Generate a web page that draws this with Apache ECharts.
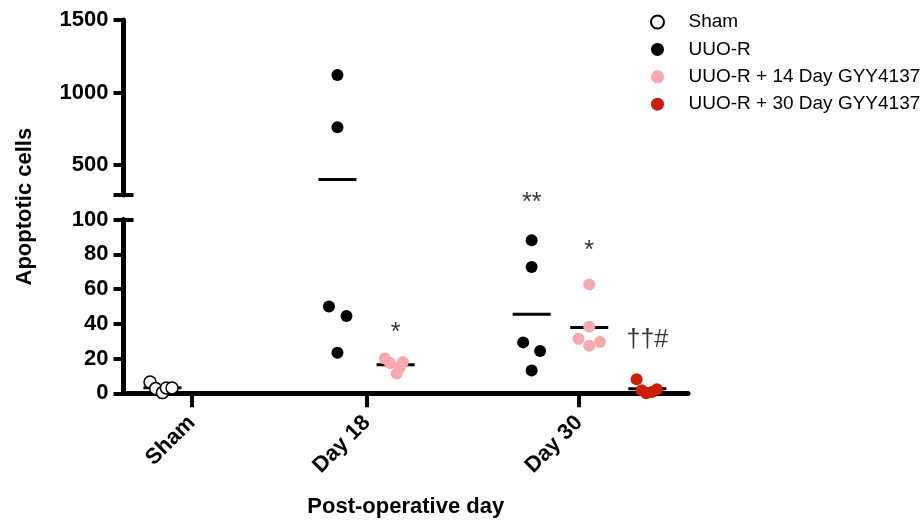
<!DOCTYPE html>
<html><head><meta charset="utf-8">
<script src="https://cdn.jsdelivr.net/npm/echarts@6/dist/echarts.min.js"></script>
<style>html,body{margin:0;padding:0;background:#fff}#chart{width:923px;height:520px}</style>
</head><body><div id="chart"></div>
<script>
// ---------------- data ----------------
const categories = ['Sham', 'Day 18', 'Day 30'];
const seriesNames = ['Sham', 'UUO-R', 'UUO-R + 14 Day GYY4137', 'UUO-R + 30 Day GYY4137'];
const shamValues = [6.5, 2.7, 0.4, 3.1, 3.1];
const uuoDay18 = [1120, 760, 50, 44.5, 23.3];
const uuoDay30 = [88, 72.7, 29.3, 24.3, 13.1];
const gyy14Day18 = [20, 17.5, 18, 11.4, 14.9];
const gyy14Day30 = [62.6, 38.3, 31.4, 27.3, 29.5];
const gyy30Day30 = [8.1, 1.7, 0, 0.8, 2.3];
const upperTicks = [500, 1000, 1500];
const lowerTicks = [0, 20, 40, 60, 80, 100];
const significance = ['*', '**', '*', '††#'];
const significanceLevel = [34.8, 109.2, 82.0, 30.7];

// ---------------- layout ----------------
const FONT = '"Liberation Sans", Arial, Helvetica, sans-serif';
const slot = { sham: 0.69, uuo18: 3.79, g14_18: 4.82, uuo30: 7.23, g14_30: 8.25, g30_30: 9.28 };
const tickPos = [1.21, 4.31, 8.07];
const annotationSlot = [slot.g14_18, slot.uuo30, slot.g14_30, slot.g30_30];
const LOWER_MAX = 100, UPPER_MIN = 293, UPPER_MAX = 1500;
const GL = 123.5, GW = 564.5;

const groups = [
  { name: seriesNames[0], x: slot.sham,   values: shamValues, jitter: [-0.22, -0.12, 0, 0.07, 0.17] },
  { name: seriesNames[1], x: slot.uuo18,  values: uuoDay18,   jitter: [0, 0, -0.15, 0.16, 0] },
  { name: seriesNames[1], x: slot.uuo30,  values: uuoDay30,   jitter: [0, 0, -0.15, 0.15, 0] },
  { name: seriesNames[2], x: slot.g14_18, values: gyy14Day18, jitter: [-0.19, -0.10, 0.13, 0.02, 0.07] },
  { name: seriesNames[2], x: slot.g14_30, values: gyy14Day30, jitter: [0, 0, -0.19, 0, 0.19] },
  { name: seriesNames[3], x: slot.g30_30, values: gyy30Day30, jitter: [-0.19, -0.10, -0.02, 0.08, 0.17] }
];
const styles = {
  'Sham': { color: '#ffffff', borderColor: '#000000', borderWidth: 1.5 },
  'UUO-R': { color: '#000000' },
  'UUO-R + 14 Day GYY4137': { color: '#f8a9ae' },
  'UUO-R + 30 Day GYY4137': { color: '#cc1f05' }
};

const series = [];
const meanLower = [], meanUpper = [];
seriesNames.forEach(name => {
  const lower = [], upper = [];
  groups.filter(g => g.name === name).forEach(g => {
    g.values.forEach((v, i) => {
      (v > LOWER_MAX ? upper : lower).push([g.x + g.jitter[i], v]);
    });
    const m = g.values.reduce((a, b) => a + b, 0) / g.values.length;
    (m > LOWER_MAX ? meanUpper : meanLower).push([g.x, m]);
  });
  series.push({ type: 'scatter', name, xAxisIndex: 0, yAxisIndex: 0, data: lower, symbol: 'circle',
    symbolSize: 12, itemStyle: Object.assign({ opacity: 1 }, styles[name]), clip: false, z: 4 });
  series.push({ type: 'scatter', name, xAxisIndex: 1, yAxisIndex: 2, data: upper, symbol: 'circle',
    symbolSize: 12, itemStyle: Object.assign({ opacity: 1 }, styles[name]), clip: false, z: 4 });
});
series.push({ type: 'scatter', name: 'mean-lower', xAxisIndex: 0, yAxisIndex: 0, data: meanLower,
  symbol: 'rect', symbolSize: [38, 3], itemStyle: { color: '#000', opacity: 1 }, clip: false, z: 3, silent: true });
series.push({ type: 'scatter', name: 'mean-upper', xAxisIndex: 1, yAxisIndex: 2, data: meanUpper,
  symbol: 'rect', symbolSize: [38, 3], itemStyle: { color: '#000', opacity: 1 }, clip: false, z: 3, silent: true });
series.push({ type: 'scatter', name: 'annotations', xAxisIndex: 0, yAxisIndex: 0, clip: false, silent: true,
  symbol: 'circle', symbolSize: 1, itemStyle: { color: 'rgba(0,0,0,0)' }, z: 5,
  data: significance.map((t, i) => ({ value: [annotationSlot[i], significanceLevel[i]], label: { formatter: t } })),
  label: { show: true, position: 'inside', color: '#000', fontFamily: FONT, fontSize: 25 } });

const axisLine = { show: true, lineStyle: { color: '#000', width: 5 } };
const labelStyle = { color: '#000', fontFamily: FONT, fontSize: 22, fontWeight: 'bold' };

const option = {
  backgroundColor: '#ffffff',
  animation: false,
  textStyle: { fontFamily: FONT },
  grid: [
    { left: GL, width: GW, top: 219.5, height: 173.8 },
    { left: GL, width: GW, top: 20, height: 175 },
    { left: GL, width: GW, top: 20, height: 373.3 }
  ],
  legend: {
    data: seriesNames, orient: 'vertical', left: 645, top: 6,
    itemWidth: 52, itemHeight: 13, itemGap: 5.4, icon: 'circle',
    textStyle: { color: '#000', fontFamily: FONT, fontSize: 19, lineHeight: 22 },
    selectedMode: false
  },
  xAxis: [
    { type: 'value', gridIndex: 0, min: 0, max: 10, axisLine,
      splitLine: { show: false },
      axisTick: { show: true, length: 14, lineStyle: { color: '#000', width: 4 }, customValues: tickPos },
      axisLabel: Object.assign({ show: true, rotate: 45, margin: 26, customValues: tickPos,
        formatter: v => { const i = tickPos.findIndex(p => Math.abs(p - v) < 1e-6); return i >= 0 ? categories[i] : ''; } }, labelStyle),
      name: 'Post-operative day', nameLocation: 'middle', nameGap: 103,
      nameTextStyle: { color: '#000', fontFamily: FONT, fontSize: 22, fontWeight: 'bold' } },
    { type: 'value', gridIndex: 1, min: 0, max: 10, show: false },
    { type: 'value', gridIndex: 2, min: 0, max: 10, show: false }
  ],
  yAxis: [
    { type: 'value', gridIndex: 0, position: 'left', min: 0, max: LOWER_MAX, axisLine,
      splitLine: { show: false },
      axisTick: { show: true, length: 10, lineStyle: { color: '#000', width: 4 }, customValues: lowerTicks },
      axisLabel: Object.assign({ margin: 15, customValues: lowerTicks, formatter: v => String(v) }, labelStyle) },
    { type: 'value', gridIndex: 0, position: 'left', min: 0, max: LOWER_MAX, axisLine: { show: false },
      splitLine: { show: false }, axisLabel: { show: false },
      axisTick: { show: true, inside: true, length: 10, lineStyle: { color: '#000', width: 4 }, customValues: [LOWER_MAX] } },
    { type: 'value', gridIndex: 1, position: 'left', min: UPPER_MIN, max: UPPER_MAX, axisLine,
      splitLine: { show: false },
      axisTick: { show: true, length: 10, lineStyle: { color: '#000', width: 4 }, customValues: [UPPER_MIN].concat(upperTicks) },
      axisLabel: Object.assign({ margin: 15, customValues: upperTicks, formatter: v => String(v) }, labelStyle) },
    { type: 'value', gridIndex: 1, position: 'left', min: UPPER_MIN, max: UPPER_MAX, axisLine: { show: false },
      splitLine: { show: false }, axisLabel: { show: false },
      axisTick: { show: true, inside: true, length: 10, lineStyle: { color: '#000', width: 4 }, customValues: [UPPER_MIN] } },
    { type: 'value', gridIndex: 2, position: 'left', min: 0, max: 1, axisLine: { show: false },
      axisTick: { show: false }, axisLabel: { show: false }, splitLine: { show: false },
      name: 'Apoptotic cells', nameLocation: 'middle', nameGap: 88,
      nameTextStyle: { color: '#000', fontFamily: FONT, fontSize: 22, fontWeight: 'bold' } }
  ],
  series
};
const chart = echarts.init(document.getElementById('chart'), null, { renderer: 'canvas' });
chart.setOption(option);
</script>
</body></html>
